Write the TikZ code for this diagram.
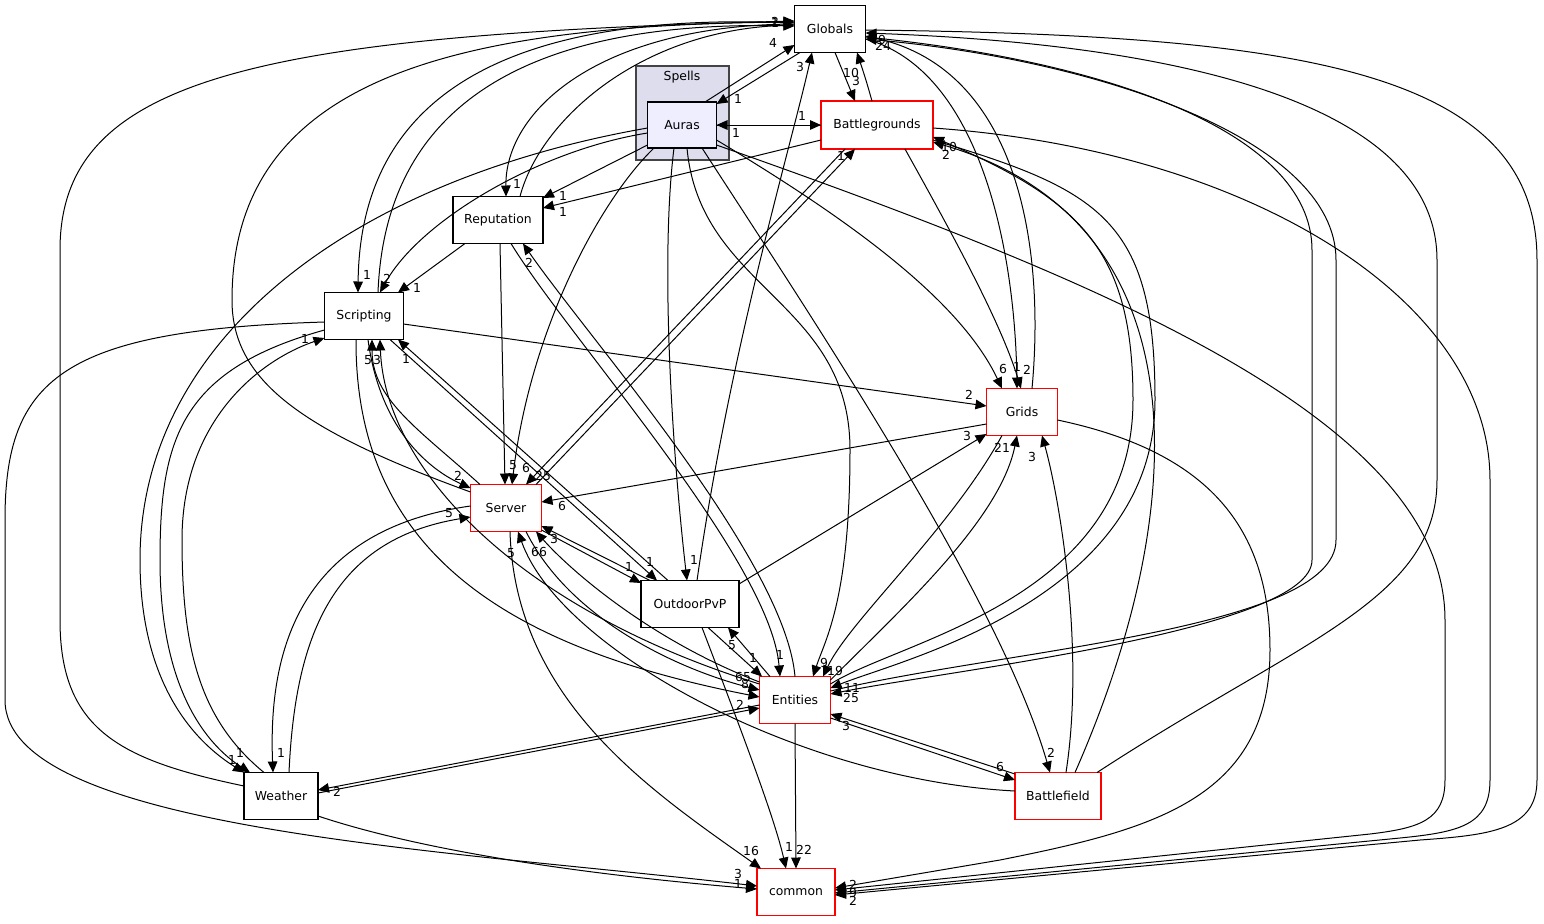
\documentclass[tikz,border=0pt]{standalone}
\usepackage{fontspec}
\setmainfont{DejaVu Sans}
\usetikzlibrary{calc,arrows.meta}

\definecolor{clusterfill}{HTML}{DDDDEE}
\definecolor{clusterline}{HTML}{444444}
\definecolor{aurasfill}{HTML}{EEEEFF}

\begin{document}
\begin{tikzpicture}[x=0.5pt,y=-0.5pt,inner sep=0pt,outer sep=0pt,
    every node/.style={font=\fontsize{6.2}{7}\selectfont},
    box/.style={draw=black,line width=0.7pt,fill=white,minimum height=23.5pt},
    redbox/.style={box,draw=red},
    lbl/.style={font=\fontsize{6.2}{7}\selectfont},
    edge/.style={line width=0.5pt,-{Triangle[length=5.5pt,width=4.8pt]}}]
    \path[use as bounding box] (0,0) rectangle (1544,923);

    % Spells cluster
    \node[draw=clusterline, fill=clusterfill, line width=0.8pt, minimum width=46.5pt, minimum height=47pt] (spells) at (682.5,113) {};
    \node (spells_cap) at (682,77) {Spells};

    % directories
    \node[box, fill=aurasfill, minimum width=34.5pt, minimum height=23pt] (auras) at (682,125) {Auras};
    \node[box, minimum width=35.5pt] (globals) at (830,29) {Globals};
    \node[redbox, minimum width=56pt, minimum height=24pt] (battlegrounds) at (877,125) {Battlegrounds};
    \node[box, minimum width=45pt] (reputation) at (498,220) {Reputation};
    \node[box, minimum width=39.5pt] (scripting) at (364,316) {Scripting};
    \node[redbox, minimum width=35.5pt] (grids) at (1022,412) {Grids};
    \node[redbox, minimum width=35.5pt] (server) at (506,508) {Server};
    \node[box, minimum width=49pt] (outdoor_pvp) at (690,604) {OutdoorPvP};
    \node[redbox, minimum width=35.5pt] (entities) at (795,700) {Entities};
    \node[redbox, minimum width=43pt] (battlefield) at (1058,796) {Battlefield};
    \node[box, minimum width=37pt] (weather) at (281,796) {Weather};
    \node[redbox, minimum width=39pt] (common) at (796,892) {common};

    % Auras
    \draw[edge] ($(auras.north)+(23,0)$) -- ($(globals.west)+(0,16)$);
    \draw[edge] ($(globals.south)+(-30,0)$) -- ($(auras.east)+(0,-21)$);
    \draw[edge] (auras.east) -- (battlegrounds.west);
    \draw[edge] (battlegrounds.west) -- (auras.east);
    \draw[edge] ($(auras.west)+(0,20)$) -- ($(reputation.east)+(0,-22)$);
    \draw[edge] ($(auras.west)+(0,8)$) .. controls (540,150) and (420,220) .. ($(scripting.north)+(16,0)$);
    \draw[edge] ($(auras.west)+(0,3)$) .. controls (350,180) and (140,340) .. (140,560) .. controls (140,690) and (200,745) .. (weather.north west);
    \draw[edge] ($(auras.south)+(-28,0)$) .. controls (600,200) and (530,330) .. ($(server.north)+(6,0)$);
    \draw[edge] ($(auras.south)+(-8,0)$) .. controls (660,260) and (672,450) .. ($(outdoor_pvp.north)+(-3,0)$);
    \draw[edge] ($(auras.south)+(5,0)$) .. controls (700,290) and (850,300) .. (850,450) .. controls (850,600) and (825,640) .. ($(entities.north)+(18,0)$);
    \draw[edge] ($(auras.south)+(20,0)$) .. controls (820,330) and (1000,600) .. ($(battlefield.north)+(-8,0)$);
    \draw[edge] ($(auras.east)+(0,15)$) .. controls (850,220) and (960,300) .. ($(grids.north)+(-20,0)$);
    \draw[edge] ($(auras.east)+(0,20)$) .. controls (1100,280) and (1445,420) .. (1445,620) -- (1445,780) .. controls (1445,820) and (1420,828) .. (1370,834) -- ($(common.east)+(0,-2)$);

    % Globals
    \draw[edge] ($(globals.south)+(5,0)$) -- ($(battlegrounds.north)+(-22,0)$);
    \draw[edge] ($(battlegrounds.north)+(-5,0)$) .. controls (866,80) .. ($(globals.south)+(27,0)$);
    \draw[edge] ($(globals.west)+(0,-5)$) .. controls (600,25) and (505,110) .. ($(reputation.north)+(8,0)$);
    \draw[edge] ($(reputation.north)+(22,0)$) .. controls (540,120) and (640,30) .. ($(globals.west)+(0,-4)$);
    \draw[edge] ($(globals.west)+(0,-6)$) .. controls (500,10) and (360,100) .. ($(scripting.north)+(-6,0)$);
    \draw[edge] ($(scripting.north)+(14,0)$) .. controls (385,110) and (520,20) .. ($(globals.west)+(0,-3)$);
    \draw[edge] ($(server.west)+(0,-16)$) .. controls (300,430) and (232,380) .. (232,300) .. controls (232,80) and (450,25) .. ($(globals.west)+(0,-7)$);
    \draw[edge] ($(weather.west)+(0,-10)$) .. controls (120,760) and (60,730) .. (60,620) -- (60,250) .. controls (60,80) and (250,35) .. ($(globals.west)+(0,-8)$);
    \draw[edge] ($(outdoor_pvp.north)+(7,0)$) .. controls (730,350) and (790,150) .. ($(globals.south)+(-18,0)$);
    \draw[edge] ($(globals.east)+(0,10)$) .. controls (980,70) and (1015,250) .. ($(grids.north)+(-5,0)$);
    \draw[edge] ($(grids.north)+(10,0)$) .. controls (1045,250) and (1020,70) .. ($(globals.east)+(0,7)$);
    \draw[edge] ($(globals.east)+(0,8)$) .. controls (1100,60) and (1312,130) .. (1312,250) -- (1312,560) .. controls (1312,630) and (950,670) .. ($(entities.east)+(0,-6)$);
    \draw[edge] ($(entities.east)+(0,-9)$) .. controls (1000,650) and (1336,630) .. (1336,540) -- (1336,260) .. controls (1336,140) and (1100,60) .. ($(globals.east)+(0,10)$);
    \draw[edge] ($(battlefield.north east)+(-4,0)$) .. controls (1300,640) and (1437,600) .. (1437,480) -- (1437,260) .. controls (1437,110) and (1200,45) .. ($(globals.east)+(0,4)$);
    \draw[edge] ($(globals.east)+(0,1)$) .. controls (1300,35) and (1537,70) .. (1537,260) -- (1537,780) .. controls (1537,830) and (1490,835) .. (1420,840) -- ($(common.east)+(0,3)$);

    % Battlegrounds
    \draw[edge] ($(battlegrounds.west)+(0,15)$) -- ($(reputation.east)+(0,-12)$);
    \draw[edge] ($(battlegrounds.south)+(-32,0)$) -- ($(server.north)+(20,0)$);
    \draw[edge] ($(server.north)+(30,0)$) -- ($(battlegrounds.south)+(-22,0)$);
    \draw[edge] ($(battlegrounds.south)+(28,0)$) .. controls (950,230) and (1000,320) .. ($(grids.north)+(-1,0)$);
    \draw[edge] ($(battlegrounds.east)+(0,15)$) .. controls (1100,190) and (1155,220) .. (1155,400) .. controls (1155,600) and (900,660) .. ($(entities.east)+(0,-12)$);
    \draw[edge] ($(entities.east)+(0,-16)$) .. controls (900,640) and (1133,600) .. (1133,400) .. controls (1133,250) and (1080,200) .. ($(battlegrounds.east)+(0,12)$);
    \draw[edge] ($(battlefield.north)+(17,0)$) .. controls (1195,500) and (1200,220) .. ($(battlegrounds.east)+(0,17)$);
    \draw[edge] ($(battlegrounds.east)+(0,3)$) .. controls (1250,150) and (1490,300) .. (1490,480) -- (1490,780) .. controls (1490,825) and (1460,832) .. (1400,838) -- ($(common.east)+(0,1)$);

    % Reputation
    \draw[edge] ($(reputation.south)+(-33,0)$) -- ($(scripting.north)+(34,0)$);
    \draw[edge] ($(reputation.south)+(2,0)$) -- ($(server.north)+(-1,0)$);
    \draw[edge] ($(reputation.south)+(13,0)$) .. controls (570,340) and (770,560) .. ($(entities.north)+(-15,0)$);
    \draw[edge] (entities.north) .. controls (785,560) and (590,340) .. ($(reputation.south)+(25,0)$);

    % Scripting
    \draw[edge] ($(scripting.east)+(0,8)$) -- ($(grids.west)+(0,-6)$);
    \draw[edge] ($(scripting.south)+(4,0)$) .. controls (380,430) and (430,470) .. ($(server.west)+(0,-20)$);
    \draw[edge] ($(server.north)+(-26,0)$) .. controls (420,430) and (372,400) .. ($(scripting.south)+(8,0)$);
    \draw[edge] ($(entities.west)+(0,-16)$) .. controls (520,610) and (385,470) .. ($(scripting.south)+(16,0)$);
    \draw[edge] ($(scripting.south)+(-8,0)$) .. controls (355,560) and (520,650) .. ($(entities.west)+(0,-3)$);
    \draw[edge] ($(outdoor_pvp.north)+(-22,0)$) -- ($(scripting.south)+(34,0)$);
    \draw[edge] ($(scripting.south)+(26,0)$) -- ($(outdoor_pvp.north)+(-33,0)$);
    \draw[edge] ($(scripting.west)+(0,6)$) .. controls (60,330) and (5,380) .. (5,520) -- (5,700) .. controls (5,830) and (450,850) .. ($(common.west)+(0,-6)$);
    \draw[edge] ($(scripting.west)+(0,14)$) .. controls (180,370) and (160,440) .. (160,560) .. controls (160,700) and (215,750) .. ($(weather.north)+(-31,0)$);
    \draw[edge] ($(weather.north)+(-17,0)$) .. controls (200,720) and (182,650) .. (182,540) .. controls (182,420) and (260,360) .. ($(scripting.west)+(0,22)$);

    % Grids
    \draw[edge] ($(grids.west)+(0,12)$) -- ($(server.east)+(0,-6)$);
    \draw[edge] ($(outdoor_pvp.east)+(0,-20)$) -- ($(grids.west)+(0,22)$);
    \draw[edge] ($(grids.south)+(-20,0)$) .. controls (950,530) and (850,620) .. ($(entities.north)+(28,0)$);
    \draw[edge] ($(entities.east)+(0,-20)$) .. controls (900,610) and (1000,520) .. ($(grids.south)+(-5,0)$);
    \draw[edge] ($(battlefield.north)+(8,0)$) .. controls (1085,650) and (1060,500) .. ($(grids.south)+(20,0)$);
    \draw[edge] ($(grids.east)+(0,8)$) .. controls (1200,450) and (1270,520) .. (1270,650) .. controls (1270,800) and (1150,830) .. (1000,860) -- ($(common.east)+(0,-4)$);

    % Server, OutdoorPvP
    \draw[edge] ($(server.east)+(0,22)$) -- ($(outdoor_pvp.west)+(0,-21)$);
    \draw[edge] ($(outdoor_pvp.north)+(-40,0)$) -- ($(server.east)+(0,18)$);
    \draw[edge] ($(battlefield.west)+(0,-5)$) .. controls (800,780) and (560,650) .. ($(server.south)+(12,0)$);
    \draw[edge] ($(entities.west)+(0,-18)$) .. controls (650,640) and (570,570) .. ($(server.south)+(30,0)$);
    \draw[edge] ($(server.south)+(20,0)$) .. controls (570,620) and (680,670) .. ($(entities.west)+(0,-10)$);
    \draw[edge] ($(server.south)+(4,0)$) .. controls (515,700) and (650,790) .. ($(common.north)+(-35,0)$);
    \draw[edge] ($(server.west)+(0,-2)$) .. controls (300,530) and (268,650) .. ($(weather.north)+(-8,0)$);
    \draw[edge] ($(weather.north)+(8,0)$) .. controls (295,640) and (330,540) .. ($(server.west)+(0,9)$);
    \draw[edge] ($(outdoor_pvp.south)+(18,0)$) -- ($(entities.north)+(-33,0)$);
    \draw[edge] ($(entities.north)+(-25,0)$) -- ($(outdoor_pvp.south)+(38,0)$);
    \draw[edge] ($(outdoor_pvp.south)+(12,0)$) .. controls (745,740) and (775,820) .. ($(common.north)+(-10,0)$);

    % Entities, Battlefield, Weather
    \draw[edge] ($(battlefield.west)+(0,-22)$) -- ($(entities.east)+(0,14)$);
    \draw[edge] ($(entities.east)+(0,18)$) -- ($(battlefield.west)+(0,-16)$);
    \draw[edge] ($(weather.east)+(0,-3)$) -- ($(entities.west)+(0,8)$);
    \draw[edge] ($(entities.west)+(0,5)$) -- ($(weather.east)+(0,-6)$);
    \draw[edge] (entities.south) -- (common.north);
    \draw[edge] ($(weather.east)+(0,20)$) .. controls (450,860) and (650,880) .. ($(common.west)+(0,-3)$);

    % edge labels
    \node[lbl] (l_aur_glo) at (773,43) {4};
    \node[lbl] (l_glo_aur) at (738,99) {1};
    \node[lbl] (l_aur_bgr) at (802,116) {1};
    \node[lbl] (l_bgr_aur) at (736,133) {1};
    \node[lbl] (l_glo_bgr) at (851,73) {10};
    \node[lbl] (l_bgr_glo) at (856,81) {3};
    \node[lbl] (l_rep_glo) at (775,23) {1};
    \node[lbl] (l_scr_glo) at (775,22) {2};
    \node[lbl] (l_ent_glo) at (883,46) {24};
    \node[lbl] (l_bfd_glo) at (882,40) {9};
    \node[lbl] (l_opv_glo) at (800,67) {3};
    \node[lbl] (l_glo_rep) at (517,184) {1};
    \node[lbl] (l_aur_rep) at (563,196) {1};
    \node[lbl] (l_bgr_rep) at (563,212) {1};
    \node[lbl] (l_ent_rep) at (529,263) {2};
    \node[lbl] (l_glo_scr) at (367,275) {1};
    \node[lbl] (l_aur_scr) at (387,279) {2};
    \node[lbl] (l_rep_scr) at (417,288) {1};
    \node[lbl] (l_srv_scr) at (368,360) {5};
    \node[lbl] (l_ent_scr) at (377,360) {3};
    \node[lbl] (l_opv_scr) at (406,359) {1};
    \node[lbl] (l_wea_scr) at (305,339) {1};
    \node[lbl] (l_aur_grd) at (1003,369) {6};
    \node[lbl] (l_glo_grd) at (1017,367) {1};
    \node[lbl] (l_bgr_grd) at (1027,370) {2};
    \node[lbl] (l_scr_grd) at (969,395) {2};
    \node[lbl] (l_opv_grd) at (967,436) {3};
    \node[lbl] (l_ent_grd) at (1002,448) {21};
    \node[lbl] (l_bfd_grd) at (1032,457) {3};
    \node[lbl] (l_rep_srv) at (513,465) {5};
    \node[lbl] (l_aur_srv) at (526,468) {6};
    \node[lbl] (l_bgr_srv) at (543,476) {25};
    \node[lbl] (l_scr_srv) at (458,476) {2};
    \node[lbl] (l_grd_srv) at (562,506) {6};
    \node[lbl] (l_wea_srv) at (449,513) {5};
    \node[lbl] (l_opv_srv) at (554,539) {3};
    \node[lbl] (l_bfd_srv) at (511,553) {5};
    \node[lbl] (l_ent_srv) at (539,552) {66};
    \node[lbl] (l_srv_bgr) at (841,156) {1};
    \node[lbl] (l_ent_bgr) at (949,147) {10};
    \node[lbl] (l_bfd_bgr) at (946,155) {2};
    \node[lbl] (l_srv_opv) at (629,567) {1};
    \node[lbl] (l_scr_opv) at (650,562) {1};
    \node[lbl] (l_aur_opv) at (694,560) {1};
    \node[lbl] (l_ent_opv) at (732,645) {5};
    \node[lbl] (l_opv_ent) at (753,658) {1};
    \node[lbl] (l_rep_ent) at (780,655) {1};
    \node[lbl] (l_aur_ent) at (824,663) {9};
    \node[lbl] (l_grd_ent) at (835,671) {19};
    \node[lbl] (l_srv_ent) at (743,677) {65};
    \node[lbl] (l_scr_ent) at (745,684) {8};
    \node[lbl] (l_bgr_ent) at (852,688) {11};
    \node[lbl] (l_glo_ent) at (851,698) {25};
    \node[lbl] (l_wea_ent) at (740,705) {2};
    \node[lbl] (l_bfd_ent) at (846,726) {3};
    \node[lbl] (l_aur_bfd) at (1051,753) {2};
    \node[lbl] (l_ent_bfd) at (1000,767) {6};
    \node[lbl] (l_aur_wea) at (232,760) {1};
    \node[lbl] (l_scr_wea) at (240,753) {1};
    \node[lbl] (l_srv_wea) at (281,753) {1};
    \node[lbl] (l_ent_wea) at (337,792) {2};
    \node[lbl] (l_srv_com) at (751,851) {16};
    \node[lbl] (l_opv_com) at (789,847) {1};
    \node[lbl] (l_ent_com) at (804,850) {22};
    \node[lbl] (l_scr_com) at (738,874) {3};
    \node[lbl] (l_wea_com) at (738,884) {1};
    \node[lbl] (l_glo_com) at (853,885) {2};
    \node[lbl] (l_aur_com) at (853,893) {9};
    \node[lbl] (l_bgr_com) at (853,901) {2};
\end{tikzpicture}
\end{document}
